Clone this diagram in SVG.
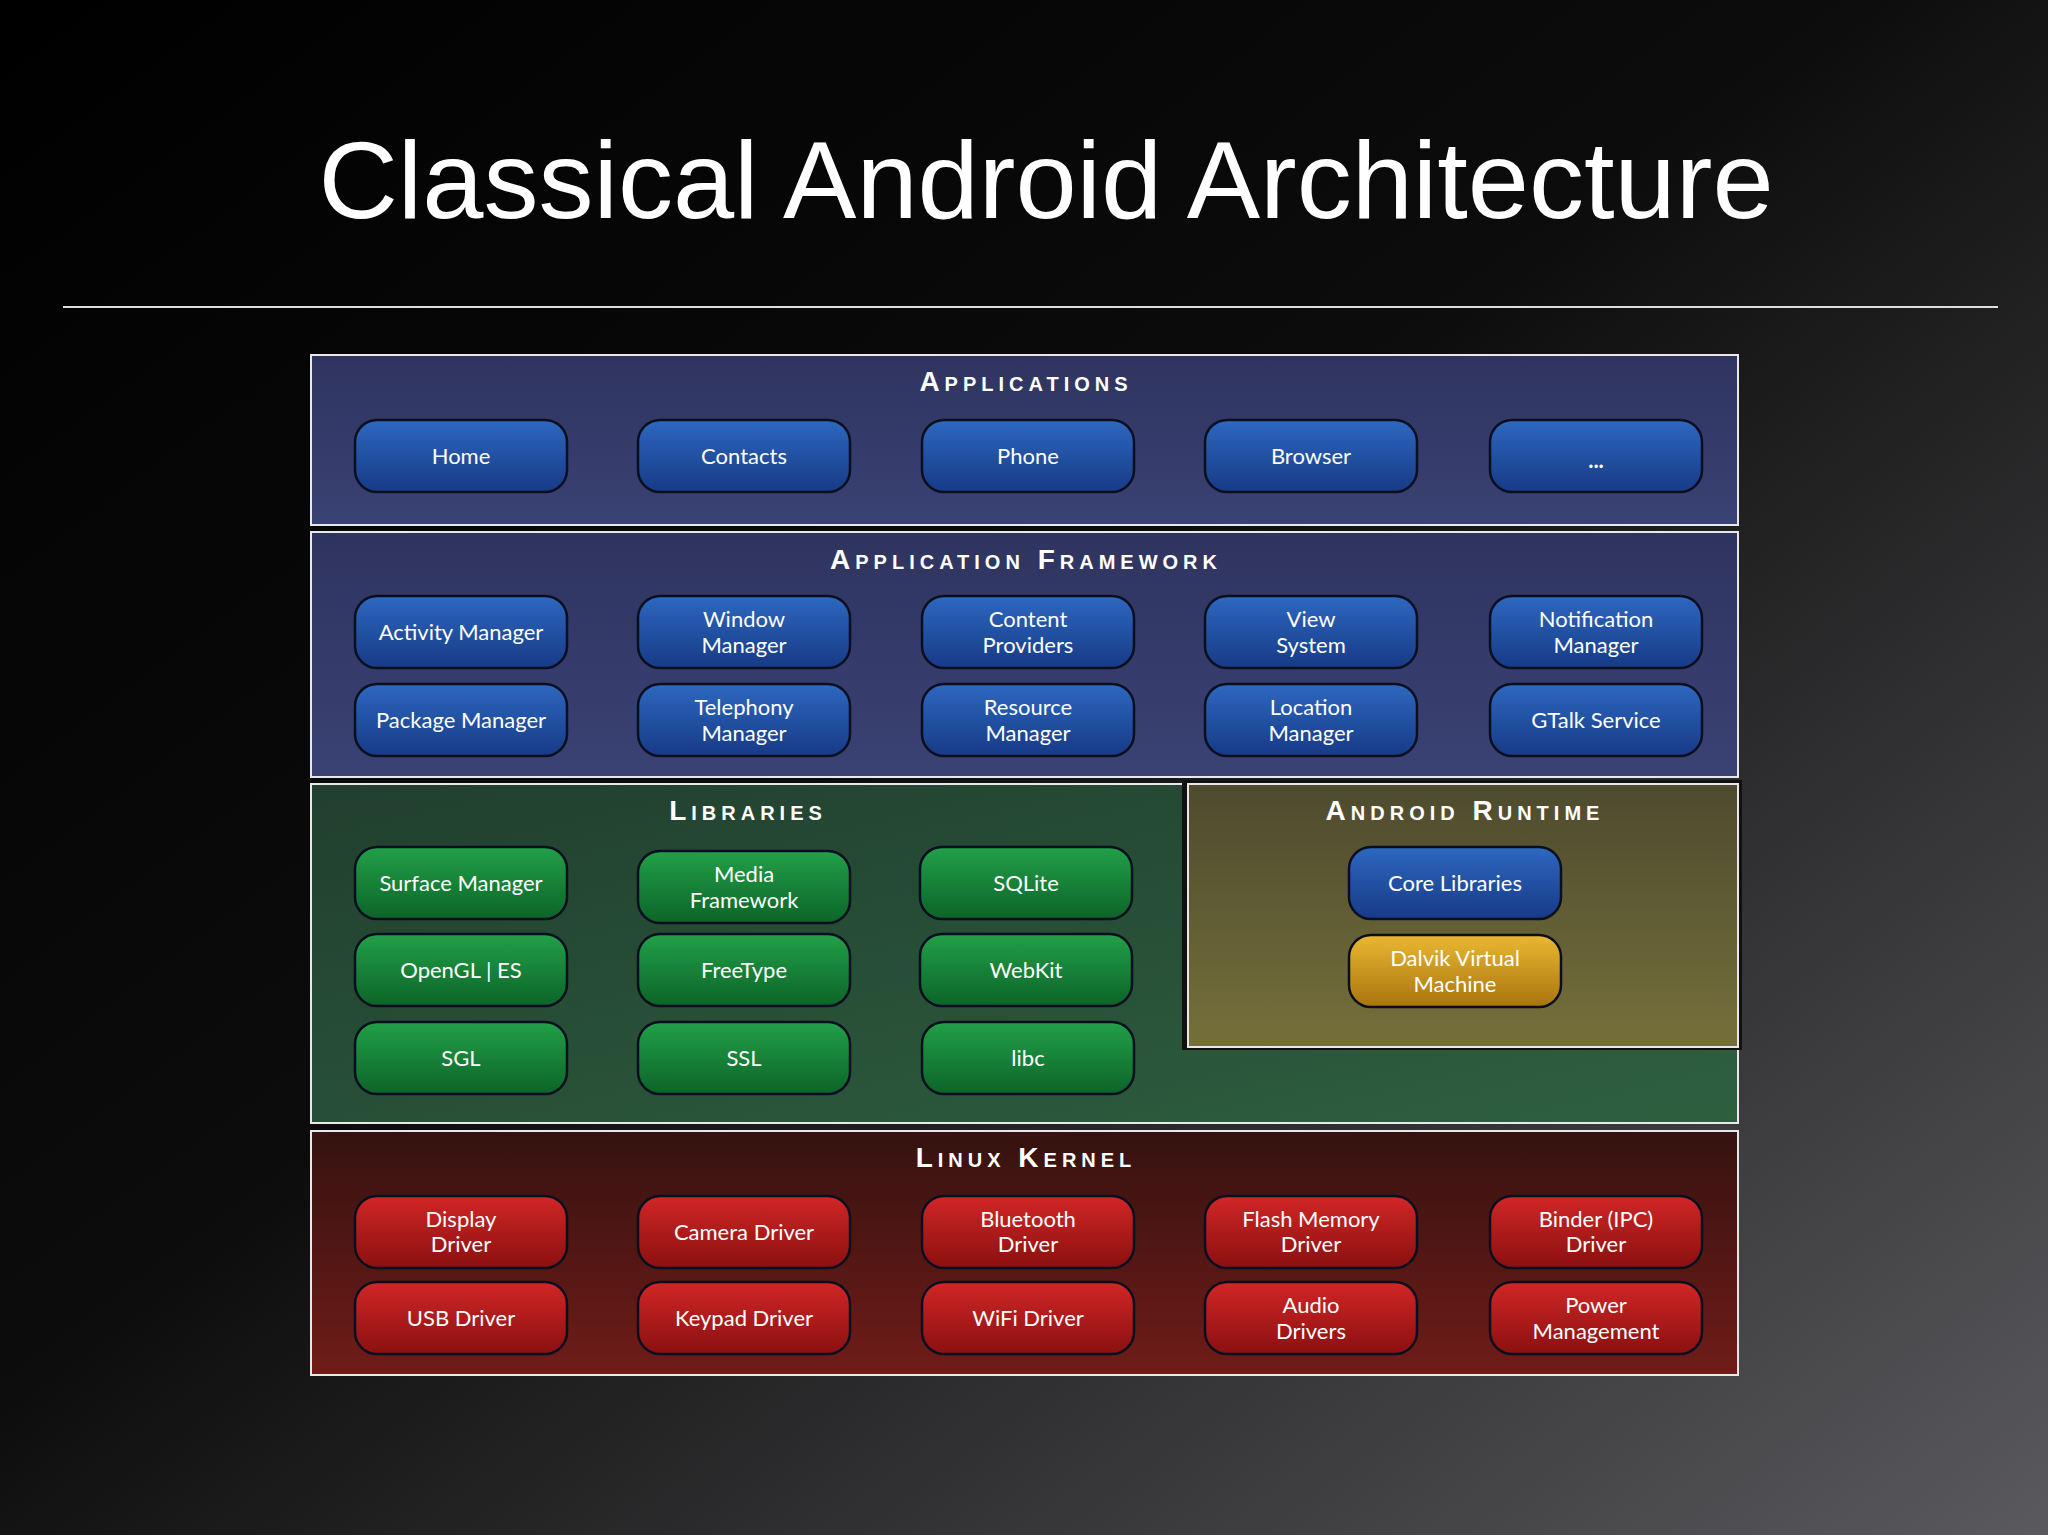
<svg xmlns="http://www.w3.org/2000/svg" width="2048" height="1535" viewBox="0 0 2048 1535">
<defs>
<linearGradient id="bg" x1="0" y1="0" x2="1" y2="1"><stop offset="0" stop-color="#000"/><stop offset="0.45" stop-color="#0c0c0c"/><stop offset="1" stop-color="#5a5a5e"/></linearGradient>
<linearGradient id="pb" x1="0" y1="0" x2="0" y2="1"><stop offset="0" stop-color="#2f345f"/><stop offset="1" stop-color="#3a4274"/></linearGradient>
<linearGradient id="pg" x1="0" y1="0" x2="1" y2="1"><stop offset="0" stop-color="#213f2e"/><stop offset="1" stop-color="#2e6040"/></linearGradient>
<linearGradient id="po" x1="0" y1="0" x2="0" y2="1"><stop offset="0" stop-color="#4e4a2e"/><stop offset="1" stop-color="#75703a"/></linearGradient>
<linearGradient id="pr" x1="0" y1="0" x2="0" y2="1"><stop offset="0" stop-color="#351210"/><stop offset="1" stop-color="#701c18"/></linearGradient>
<linearGradient id="bb" x1="0" y1="0" x2="0" y2="1"><stop offset="0" stop-color="#2d68c0"/><stop offset="1" stop-color="#173a86"/></linearGradient>
<linearGradient id="bgr" x1="0" y1="0" x2="0" y2="1"><stop offset="0" stop-color="#22a048"/><stop offset="1" stop-color="#0c6428"/></linearGradient>
<linearGradient id="brd" x1="0" y1="0" x2="0" y2="1"><stop offset="0" stop-color="#d22626"/><stop offset="1" stop-color="#8a1010"/></linearGradient>
<linearGradient id="by" x1="0" y1="0" x2="0" y2="1"><stop offset="0" stop-color="#eab832"/><stop offset="1" stop-color="#a8740e"/></linearGradient>
</defs>
<style>
.panel{stroke:#e8e8e8;stroke-width:2}
.btn{stroke:#0a0f20;stroke-width:2.5}
.bt{font-family:Lato,"Liberation Sans",sans-serif;font-size:22px;fill:#fff;text-anchor:middle}
.st{font-family:"Liberation Sans",sans-serif;font-size:28px;font-weight:bold;fill:#fff;text-anchor:middle;font-variant:small-caps;letter-spacing:5px}
</style>
<rect width="2048" height="1535" fill="url(#bg)"/>
<text x="1046" y="218" font-family="Liberation Sans,sans-serif" font-size="110" fill="#fff" text-anchor="middle">Classical Android Architecture</text>
<line x1="63" y1="307" x2="1998" y2="307" stroke="#ddd" stroke-width="2"/>

<g id="applications">
<rect class="panel" x="311" y="355" width="1427" height="170" fill="url(#pb)"/>
<text class="st" x="1026" y="391">Applications</text>
</g>
<g id="framework">
<rect class="panel" x="311" y="532" width="1427" height="245" fill="url(#pb)"/>
<text class="st" x="1026" y="569">Application Framework</text>
</g>
<g id="libraries">
<rect class="panel" x="311" y="784" width="1427" height="339" fill="url(#pg)"/>
<text class="st" x="748" y="820">Libraries</text>
</g>
<g id="runtime">
<rect x="1182" y="780" width="560" height="270" fill="#111"/>
<rect class="panel" x="1188" y="784" width="550" height="263" fill="url(#po)"/>
<text class="st" x="1465" y="820">Android Runtime</text>
</g>
<g id="kernel">
<rect class="panel" x="311" y="1131" width="1427" height="244" fill="url(#pr)"/>
<text class="st" x="1026" y="1167">Linux Kernel</text>
</g>

<g id="nodes">
<g id="n-home"><rect class="btn" x="355" y="420" width="212" height="72" rx="22" fill="url(#bb)"/><text class="bt" x="461" y="464">Home</text></g>
<g id="n-contacts"><rect class="btn" x="638" y="420" width="212" height="72" rx="22" fill="url(#bb)"/><text class="bt" x="744" y="464">Contacts</text></g>
<g id="n-phone"><rect class="btn" x="922" y="420" width="212" height="72" rx="22" fill="url(#bb)"/><text class="bt" x="1028" y="464">Phone</text></g>
<g id="n-browser"><rect class="btn" x="1205" y="420" width="212" height="72" rx="22" fill="url(#bb)"/><text class="bt" x="1311" y="464">Browser</text></g>
<g id="n-more"><rect class="btn" x="1490" y="420" width="212" height="72" rx="22" fill="url(#bb)"/><text class="bt" x="1596" y="468" font-size="30" font-weight="bold">...</text></g>

<g id="n-activity"><rect class="btn" x="355" y="596" width="212" height="72" rx="22" fill="url(#bb)"/><text class="bt" x="461" y="640">Activity Manager</text></g>
<g id="n-window"><rect class="btn" x="638" y="596" width="212" height="72" rx="22" fill="url(#bb)"/><text class="bt" x="744" y="627">Window</text><text class="bt" x="744" y="653">Manager</text></g>
<g id="n-content"><rect class="btn" x="922" y="596" width="212" height="72" rx="22" fill="url(#bb)"/><text class="bt" x="1028" y="627">Content</text><text class="bt" x="1028" y="653">Providers</text></g>
<g id="n-view"><rect class="btn" x="1205" y="596" width="212" height="72" rx="22" fill="url(#bb)"/><text class="bt" x="1311" y="627">View</text><text class="bt" x="1311" y="653">System</text></g>
<g id="n-notification"><rect class="btn" x="1490" y="596" width="212" height="72" rx="22" fill="url(#bb)"/><text class="bt" x="1596" y="627">Notification</text><text class="bt" x="1596" y="653">Manager</text></g>

<g id="n-package"><rect class="btn" x="355" y="684" width="212" height="72" rx="22" fill="url(#bb)"/><text class="bt" x="461" y="728">Package Manager</text></g>
<g id="n-telephony"><rect class="btn" x="638" y="684" width="212" height="72" rx="22" fill="url(#bb)"/><text class="bt" x="744" y="715">Telephony</text><text class="bt" x="744" y="741">Manager</text></g>
<g id="n-resource"><rect class="btn" x="922" y="684" width="212" height="72" rx="22" fill="url(#bb)"/><text class="bt" x="1028" y="715">Resource</text><text class="bt" x="1028" y="741">Manager</text></g>
<g id="n-location"><rect class="btn" x="1205" y="684" width="212" height="72" rx="22" fill="url(#bb)"/><text class="bt" x="1311" y="715">Location</text><text class="bt" x="1311" y="741">Manager</text></g>
<g id="n-gtalk"><rect class="btn" x="1490" y="684" width="212" height="72" rx="22" fill="url(#bb)"/><text class="bt" x="1596" y="728">GTalk Service</text></g>

<g id="n-surface"><rect class="btn" x="355" y="847" width="212" height="72" rx="22" fill="url(#bgr)"/><text class="bt" x="461" y="891">Surface Manager</text></g>
<g id="n-media"><rect class="btn" x="638" y="851" width="212" height="72" rx="22" fill="url(#bgr)"/><text class="bt" x="744" y="882">Media</text><text class="bt" x="744" y="908">Framework</text></g>
<g id="n-sqlite"><rect class="btn" x="920" y="847" width="212" height="72" rx="22" fill="url(#bgr)"/><text class="bt" x="1026" y="891">SQLite</text></g>
<g id="n-opengl"><rect class="btn" x="355" y="934" width="212" height="72" rx="22" fill="url(#bgr)"/><text class="bt" x="461" y="978">OpenGL | ES</text></g>
<g id="n-freetype"><rect class="btn" x="638" y="934" width="212" height="72" rx="22" fill="url(#bgr)"/><text class="bt" x="744" y="978">FreeType</text></g>
<g id="n-webkit"><rect class="btn" x="920" y="934" width="212" height="72" rx="22" fill="url(#bgr)"/><text class="bt" x="1026" y="978">WebKit</text></g>
<g id="n-sgl"><rect class="btn" x="355" y="1022" width="212" height="72" rx="22" fill="url(#bgr)"/><text class="bt" x="461" y="1066">SGL</text></g>
<g id="n-ssl"><rect class="btn" x="638" y="1022" width="212" height="72" rx="22" fill="url(#bgr)"/><text class="bt" x="744" y="1066">SSL</text></g>
<g id="n-libc"><rect class="btn" x="922" y="1022" width="212" height="72" rx="22" fill="url(#bgr)"/><text class="bt" x="1028" y="1066">libc</text></g>

<g id="n-core"><rect class="btn" x="1349" y="847" width="212" height="72" rx="22" fill="url(#bb)"/><text class="bt" x="1455" y="891">Core Libraries</text></g>
<g id="n-dalvik"><rect class="btn" x="1349" y="935" width="212" height="72" rx="22" fill="url(#by)"/><text class="bt" x="1455" y="966">Dalvik Virtual</text><text class="bt" x="1455" y="992">Machine</text></g>

<g id="n-display"><rect class="btn" x="355" y="1196" width="212" height="72" rx="22" fill="url(#brd)"/><text class="bt" x="461" y="1227">Display</text><text class="bt" x="461" y="1252">Driver</text></g>
<g id="n-camera"><rect class="btn" x="638" y="1196" width="212" height="72" rx="22" fill="url(#brd)"/><text class="bt" x="744" y="1240">Camera Driver</text></g>
<g id="n-bluetooth"><rect class="btn" x="922" y="1196" width="212" height="72" rx="22" fill="url(#brd)"/><text class="bt" x="1028" y="1227">Bluetooth</text><text class="bt" x="1028" y="1252">Driver</text></g>
<g id="n-flash"><rect class="btn" x="1205" y="1196" width="212" height="72" rx="22" fill="url(#brd)"/><text class="bt" x="1311" y="1227">Flash Memory</text><text class="bt" x="1311" y="1252">Driver</text></g>
<g id="n-binder"><rect class="btn" x="1490" y="1196" width="212" height="72" rx="22" fill="url(#brd)"/><text class="bt" x="1596" y="1227">Binder (IPC)</text><text class="bt" x="1596" y="1252">Driver</text></g>
<g id="n-usb"><rect class="btn" x="355" y="1282" width="212" height="72" rx="22" fill="url(#brd)"/><text class="bt" x="461" y="1326">USB Driver</text></g>
<g id="n-keypad"><rect class="btn" x="638" y="1282" width="212" height="72" rx="22" fill="url(#brd)"/><text class="bt" x="744" y="1326">Keypad Driver</text></g>
<g id="n-wifi"><rect class="btn" x="922" y="1282" width="212" height="72" rx="22" fill="url(#brd)"/><text class="bt" x="1028" y="1326">WiFi Driver</text></g>
<g id="n-audio"><rect class="btn" x="1205" y="1282" width="212" height="72" rx="22" fill="url(#brd)"/><text class="bt" x="1311" y="1313">Audio</text><text class="bt" x="1311" y="1339">Drivers</text></g>
<g id="n-power"><rect class="btn" x="1490" y="1282" width="212" height="72" rx="22" fill="url(#brd)"/><text class="bt" x="1596" y="1313">Power</text><text class="bt" x="1596" y="1339">Management</text></g>
</g>
<g id="connectors"/>
</svg>
